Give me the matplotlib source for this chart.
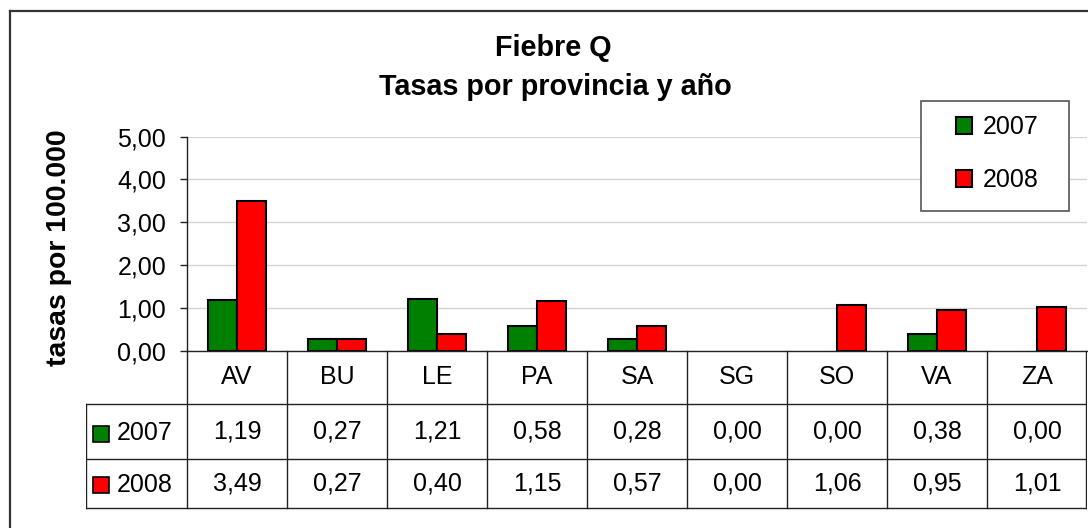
import matplotlib
matplotlib.use("Agg")
import matplotlib.pyplot as plt
from matplotlib.patches import Rectangle
from matplotlib.lines import Line2D
from matplotlib.ticker import FuncFormatter

# ---- data ----
provincias = ["AV", "BU", "LE", "PA", "SA", "SG", "SO", "VA", "ZA"]
tasas_2007 = [1.19, 0.27, 1.21, 0.58, 0.28, 0.00, 0.00, 0.38, 0.00]
tasas_2008 = [3.49, 0.27, 0.40, 1.15, 0.57, 0.00, 1.06, 0.95, 1.01]
series_labels = ["2007", "2008"]
yticks = [0, 1, 2, 3, 4, 5]
title_lines = ["Fiebre Q", "Tasas por provincia y año"]
ylabel = "tasas por 100.000"

colors = ["#008000", "#FF0000"]

plt.rcParams['font.family'] = ['Liberation Sans', 'DejaVu Sans']

W, H = 1088, 528
fig = plt.figure(figsize=(W / 100, H / 100), dpi=100)
fig.patch.set_facecolor("white")

FS = 18


def fx(px):
    return px / W


def fy(py):
    return 1 - py / H


# outer chart border (top and left edges visible)
fig.add_artist(Line2D([fx(10), fx(1100)], [fy(11), fy(11)], color="#333333", lw=1.6,
                      transform=fig.transFigure))
fig.add_artist(Line2D([fx(10), fx(10)], [fy(11), fy(540)], color="#333333", lw=1.6,
                      transform=fig.transFigure))

# ---- main axes ----
x0, x1 = 187, 1087
ytop, ybot = 136.7, 350.7
ax = fig.add_axes([fx(x0), fy(ybot), fx(x1) - fx(x0), (ybot - ytop) / H])
n = len(provincias)
ax.set_xlim(-0.5, n - 0.5)
ax.set_ylim(0, 5)
bw = 0.29
xs = list(range(n))
b1 = ax.bar([x - bw / 2 for x in xs], tasas_2007, width=bw, color=colors[0],
            edgecolor="black", linewidth=[1.5 if v > 0 else 0 for v in tasas_2007],
            zorder=3, label=series_labels[0])
b2 = ax.bar([x + bw / 2 for x in xs], tasas_2008, width=bw, color=colors[1],
            edgecolor="black", linewidth=[1.5 if v > 0 else 0 for v in tasas_2008],
            zorder=3, label=series_labels[1])

for s in ["top", "right"]:
    ax.spines[s].set_visible(False)
ax.spines["left"].set_color("#222222")
ax.spines["bottom"].set_color("#222222")
ax.spines["left"].set_linewidth(1.0)
ax.spines["bottom"].set_linewidth(1.0)
ax.spines["bottom"].set_zorder(4)
ax.set_yticks(yticks)
ax.yaxis.set_major_formatter(FuncFormatter(lambda v, p: f"{v:.2f}".replace(".", ",")))
ax.tick_params(axis="y", direction="out", length=5, width=1, color="#222222",
               labelsize=FS, pad=10)
ax.set_xticks([])
ax.yaxis.grid(True, color="#d4d4d4", linewidth=1.0, zorder=0)
ax.set_axisbelow(True)
ax.patch.set_alpha(0)

# y label and title
fig.text(fx(59), fy(247.5), ylabel, rotation=90, ha="center", va="center",
         fontsize=20.4, fontweight="bold")
fig.text(fx(553.5), fy(56.5), title_lines[0], ha="center", va="baseline",
         fontsize=20.7, fontweight="bold")
fig.text(fx(555), fy(95), title_lines[1], ha="center", va="baseline",
         fontsize=20.7, fontweight="bold")

# legend with manual frame
lx0, lx1, ly0, ly1 = 920.7, 1069, 100.7, 211
fig.add_artist(Rectangle((fx(lx0), fy(ly1)), fx(lx1) - fx(lx0), (ly1 - ly0) / H,
                         transform=fig.transFigure, facecolor="white",
                         edgecolor="#555555", lw=1.2, zorder=5))
leg = fig.legend(handles=[b1, b2], labels=series_labels, loc="center",
                 bbox_to_anchor=(fx(997), fy(153.5)), frameon=False,
                 fontsize=FS, handlelength=0.66, handleheight=0.66,
                 handletextpad=0.4, labelspacing=1.15, borderpad=0, borderaxespad=0)
leg.set_zorder(6)

# ---- data table ----
tl = 86
tax = fig.add_axes([fx(tl), 0, fx(x1) - fx(tl), 1], zorder=1)
tax.set_xlim(-0.5 - (x0 - tl) / 100.0, n - 0.5)
tax.set_ylim(H, 0)
tax.axis("off")
tax.patch.set_alpha(0)
lc = "#222222"
rows_y = [351, 404, 459, 508]
left_lab = -0.5 - (x0 - tl) / 100.0
# horizontal lines
for yy in rows_y[1:]:
    tax.plot([left_lab, n - 0.5], [yy, yy], color=lc, lw=1.0)
# vertical lines
tax.plot([left_lab, left_lab], [rows_y[1], rows_y[3]], color=lc, lw=1.0)
for k in range(n + 1):
    xb = k - 0.5
    if k == n:
        xb = n - 0.5 - 0.012
    tax.plot([xb, xb], [rows_y[0], rows_y[3]], color=lc, lw=1.0)

hdr_y, r1_y, r2_y = 377.5, 432, 483
for i, p in enumerate(provincias):
    tax.text(i, hdr_y, p, ha="center", va="center", fontsize=FS)
    tax.text(i, r1_y, f"{tasas_2007[i]:.2f}".replace(".", ","), ha="center",
             va="center", fontsize=FS)
    tax.text(i, r2_y, f"{tasas_2008[i]:.2f}".replace(".", ","), ha="center",
             va="center", fontsize=FS)

# row labels with markers
mk_x = left_lab + (100.7 - tl) / 100.0
txt_x = left_lab + (117 - tl) / 100.0
for yy, lab, c in [(r1_y + 1.5, series_labels[0], colors[0]),
                   (r2_y + 1.5, series_labels[1], colors[1])]:
    tax.plot([mk_x], [yy], marker="s", markersize=11.5, color=c,
             markeredgecolor="black", markeredgewidth=1.2)
    tax.text(txt_x, yy, lab, ha="left", va="center", fontsize=FS)

fig.savefig("out.png", dpi=100, facecolor="white")
